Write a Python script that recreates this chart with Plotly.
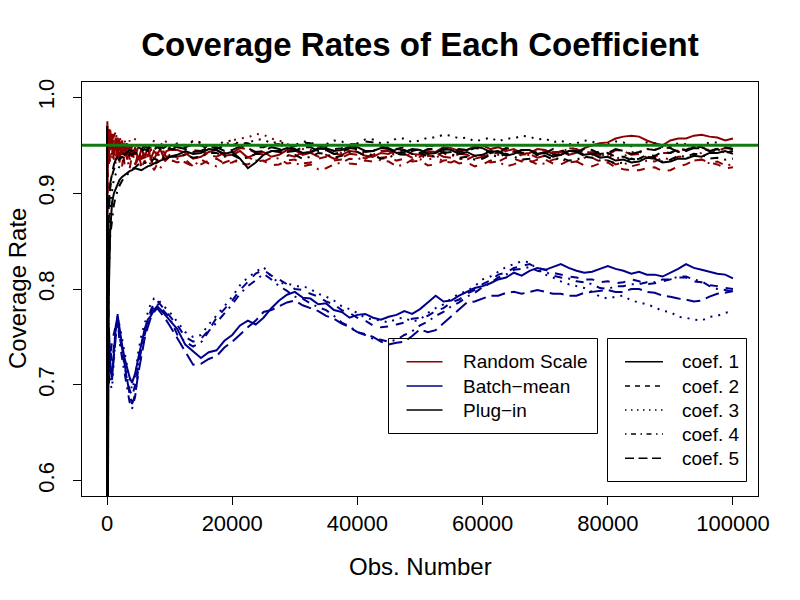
import plotly.graph_objects as go

# ---------------- data ----------------
obs_early = [1, 50, 150, 300, 500, 800, 1100, 1400, 1700, 2000, 2400, 2800, 3200, 3600, 4000,
             4500, 5000, 5500, 6000, 6500, 7000, 7500, 8000, 8500, 9000, 9500, 10000]
obs_late = [11250, 12500, 13750, 15000, 16250, 17500, 18750, 20000,
            21250, 22500, 23750, 25000, 26250, 27500, 28750, 30000,
            31250, 32500, 33750, 35000, 36250, 37500, 38750, 40000,
            41250, 42500, 43750, 45000, 46250, 47500, 48750, 50000,
            51250, 52500, 53750, 55000, 56250, 57500, 58750, 60000,
            61250, 62500, 63750, 65000, 66250, 67500, 68750, 70000,
            71250, 72500, 73750, 75000, 76250, 77500, 78750, 80000,
            81250, 82500, 83750, 85000, 86250, 87500, 88750, 90000,
            91250, 92500, 93750, 95000, 96250, 97500, 98750, 100000]
obs_n = obs_early + obs_late

# Random Scale (red)
rs_coef1 = [0.72, 0.97, 0.935, 0.965, 0.945, 0.962, 0.94, 0.958, 0.936, 0.955, 0.94, 0.952, 0.935, 0.95,
            0.938, 0.948, 0.935, 0.946, 0.938, 0.947, 0.936, 0.944, 0.94, 0.946, 0.938, 0.944, 0.945,
            0.945, 0.942, 0.936, 0.938, 0.943, 0.945, 0.939, 0.940,
            0.944, 0.937, 0.941, 0.943, 0.938, 0.940, 0.945, 0.945,
            0.940, 0.942, 0.946, 0.946, 0.941, 0.940, 0.944, 0.943,
            0.939, 0.938, 0.942, 0.941, 0.946, 0.945, 0.941, 0.940,
            0.944, 0.943, 0.948, 0.947, 0.944, 0.945, 0.949, 0.950,
            0.946, 0.948, 0.944, 0.946, 0.941, 0.942, 0.946, 0.945,
            0.941, 0.944, 0.940, 0.942, 0.947, 0.950, 0.952, 0.953,
            0.957, 0.959, 0.960, 0.959, 0.955, 0.952, 0.950, 0.955,
            0.957, 0.957, 0.960, 0.961, 0.959, 0.958, 0.955, 0.957]
rs_coef2 = [0.75, 0.955, 0.965, 0.93, 0.96, 0.94, 0.962, 0.945, 0.958, 0.938, 0.952, 0.93, 0.948, 0.935,
            0.945, 0.93, 0.942, 0.928, 0.94, 0.932, 0.936, 0.926, 0.935, 0.93, 0.938, 0.932, 0.935,
            0.932, 0.935, 0.928, 0.930, 0.934, 0.936, 0.931, 0.932,
            0.936, 0.938, 0.933, 0.934, 0.929, 0.930, 0.934, 0.935,
            0.931, 0.932, 0.936, 0.938, 0.934, 0.935, 0.931, 0.930,
            0.934, 0.933, 0.937, 0.938, 0.934, 0.936, 0.933, 0.934,
            0.929, 0.930, 0.934, 0.935, 0.931, 0.932, 0.928, 0.930,
            0.934, 0.933, 0.937, 0.936, 0.933, 0.932, 0.935, 0.935,
            0.931, 0.930, 0.934, 0.933, 0.929, 0.928, 0.931, 0.932,
            0.927, 0.925, 0.924, 0.924, 0.926, 0.927, 0.923, 0.924,
            0.928, 0.930, 0.934, 0.935, 0.932, 0.930, 0.926, 0.927]
rs_coef3 = [0.70, 0.962, 0.94, 0.97, 0.95, 0.935, 0.958, 0.965, 0.945, 0.96, 0.945, 0.956, 0.942, 0.955,
            0.948, 0.957, 0.946, 0.953, 0.945, 0.952, 0.947, 0.955, 0.948, 0.953, 0.949, 0.955, 0.95,
            0.950, 0.948, 0.955, 0.952, 0.947, 0.945, 0.950, 0.955,
            0.957, 0.958, 0.962, 0.961, 0.957, 0.955, 0.951, 0.950,
            0.946, 0.945, 0.949, 0.948, 0.944, 0.942, 0.946, 0.945,
            0.941, 0.940, 0.936, 0.938, 0.942, 0.942, 0.938, 0.940,
            0.935, 0.937, 0.941, 0.940, 0.936, 0.935, 0.939, 0.938,
            0.942, 0.940, 0.944, 0.943, 0.939, 0.940, 0.944, 0.945,
            0.941, 0.942, 0.947, 0.946, 0.942, 0.943, 0.939, 0.940,
            0.936, 0.938, 0.943, 0.942, 0.946, 0.945, 0.949, 0.948,
            0.944, 0.944, 0.940, 0.942, 0.946, 0.946, 0.942, 0.944]
rs_coef4 = [0.78, 0.94, 0.968, 0.945, 0.932, 0.958, 0.945, 0.93, 0.955, 0.942, 0.928, 0.948, 0.935, 0.925,
            0.94, 0.93, 0.936, 0.926, 0.934, 0.928, 0.932, 0.924, 0.93, 0.926, 0.932, 0.935, 0.938,
            0.936, 0.932, 0.928, 0.935, 0.931, 0.928, 0.932, 0.935,
            0.931, 0.930, 0.934, 0.933, 0.937, 0.936, 0.931, 0.932,
            0.928, 0.930, 0.925, 0.926, 0.930, 0.932, 0.936, 0.935,
            0.939, 0.938, 0.934, 0.933, 0.928, 0.930, 0.935, 0.935,
            0.939, 0.938, 0.933, 0.932, 0.936, 0.935, 0.939, 0.937,
            0.932, 0.933, 0.928, 0.930, 0.934, 0.934, 0.930, 0.931,
            0.935, 0.936, 0.932, 0.933, 0.937, 0.937, 0.933, 0.935,
            0.930, 0.932, 0.928, 0.930, 0.934, 0.933, 0.937, 0.935,
            0.938, 0.938, 0.934, 0.935, 0.931, 0.933, 0.929, 0.930]
rs_coef5 = [0.74, 0.975, 0.95, 0.94, 0.966, 0.95, 0.935, 0.958, 0.945, 0.932, 0.955, 0.94, 0.952, 0.938,
            0.95, 0.94, 0.948, 0.935, 0.945, 0.938, 0.946, 0.935, 0.942, 0.938, 0.944, 0.937, 0.94,
            0.938, 0.940, 0.945, 0.944, 0.940, 0.938, 0.942, 0.942,
            0.947, 0.946, 0.942, 0.940, 0.944, 0.944, 0.940, 0.938,
            0.943, 0.942, 0.938, 0.940, 0.936, 0.937, 0.941, 0.940,
            0.936, 0.940, 0.944, 0.944, 0.940, 0.941, 0.937, 0.938,
            0.942, 0.942, 0.938, 0.937, 0.941, 0.940, 0.936, 0.938,
            0.941, 0.942, 0.946, 0.944, 0.940, 0.941, 0.937, 0.939,
            0.943, 0.943, 0.947, 0.946, 0.942, 0.943, 0.939, 0.940,
            0.945, 0.944, 0.940, 0.941, 0.937, 0.938, 0.942, 0.942,
            0.946, 0.945, 0.948, 0.948, 0.944, 0.944, 0.947, 0.946]

# Batch-mean (blue)
bm_coef1 = [0.0, 0.82, 0.70, 0.76, 0.725, 0.705, 0.735, 0.762, 0.772, 0.758, 0.742, 0.728, 0.718, 0.708,
            0.702, 0.712, 0.728, 0.745, 0.758, 0.768, 0.772, 0.778, 0.782, 0.779, 0.775, 0.772, 0.768,
            0.758, 0.742, 0.735, 0.728, 0.734, 0.736, 0.746, 0.752,
            0.762, 0.767, 0.763, 0.770, 0.780, 0.788, 0.794, 0.797,
            0.791, 0.790, 0.784, 0.785, 0.778, 0.776, 0.770, 0.773,
            0.774, 0.770, 0.768, 0.771, 0.773, 0.777, 0.774, 0.779,
            0.786, 0.793, 0.787, 0.788, 0.793, 0.797, 0.801, 0.803,
            0.806, 0.810, 0.812, 0.817, 0.814, 0.819, 0.822, 0.820,
            0.823, 0.826, 0.822, 0.819, 0.817, 0.818, 0.821, 0.824,
            0.821, 0.819, 0.816, 0.818, 0.815, 0.815, 0.813, 0.817,
            0.821, 0.826, 0.822, 0.820, 0.818, 0.816, 0.815, 0.811]
bm_coef2 = [0.0, 0.80, 0.74, 0.70, 0.73, 0.745, 0.755, 0.762, 0.766, 0.75, 0.735, 0.72, 0.705, 0.695,
            0.688, 0.70, 0.722, 0.742, 0.755, 0.768, 0.778, 0.785, 0.788, 0.784, 0.780, 0.776, 0.772,
            0.762, 0.750, 0.745, 0.748, 0.757, 0.770, 0.779, 0.788,
            0.799, 0.807, 0.816, 0.820, 0.814, 0.810, 0.805, 0.800,
            0.799, 0.795, 0.792, 0.787, 0.784, 0.778, 0.775, 0.770,
            0.767, 0.762, 0.760, 0.761, 0.763, 0.765, 0.769, 0.770,
            0.772, 0.777, 0.780, 0.786, 0.789, 0.795, 0.799, 0.805,
            0.809, 0.815, 0.817, 0.822, 0.824, 0.826, 0.822, 0.820,
            0.817, 0.815, 0.813, 0.812, 0.810, 0.810, 0.807, 0.808,
            0.806, 0.807, 0.810, 0.808, 0.805, 0.806, 0.808, 0.810,
            0.812, 0.812, 0.808, 0.807, 0.804, 0.803, 0.801, 0.800]
bm_coef3 = [0.0, 0.78, 0.72, 0.74, 0.70, 0.696, 0.73, 0.755, 0.77, 0.762, 0.748, 0.732, 0.72, 0.705,
            0.695, 0.708, 0.735, 0.752, 0.765, 0.775, 0.785, 0.79, 0.79, 0.786, 0.782, 0.779, 0.776,
            0.765, 0.755, 0.750, 0.752, 0.763, 0.772, 0.782, 0.792,
            0.804, 0.812, 0.818, 0.823, 0.813, 0.806, 0.806, 0.803,
            0.803, 0.800, 0.795, 0.792, 0.788, 0.782, 0.779, 0.775,
            0.770, 0.768, 0.767, 0.765, 0.769, 0.770, 0.766, 0.768,
            0.775, 0.780, 0.784, 0.790, 0.795, 0.798, 0.803, 0.810,
            0.813, 0.818, 0.823, 0.826, 0.829, 0.828, 0.820, 0.815,
            0.812, 0.808, 0.805, 0.803, 0.801, 0.797, 0.792, 0.790,
            0.792, 0.793, 0.788, 0.786, 0.784, 0.781, 0.777, 0.776,
            0.771, 0.770, 0.768, 0.767, 0.771, 0.772, 0.775, 0.777]
bm_coef4 = [0.0, 0.81, 0.76, 0.72, 0.74, 0.722, 0.74, 0.758, 0.768, 0.745, 0.728, 0.712, 0.695, 0.682,
            0.675, 0.688, 0.718, 0.738, 0.752, 0.765, 0.775, 0.782, 0.785, 0.781, 0.778, 0.774, 0.77,
            0.752, 0.745, 0.740, 0.744, 0.756, 0.765, 0.774, 0.784,
            0.795, 0.803, 0.809, 0.816, 0.810, 0.803, 0.798, 0.792,
            0.790, 0.785, 0.781, 0.778, 0.772, 0.765, 0.761, 0.755,
            0.752, 0.748, 0.747, 0.745, 0.747, 0.752, 0.756, 0.762,
            0.766, 0.772, 0.776, 0.782, 0.786, 0.792, 0.796, 0.802,
            0.806, 0.812, 0.815, 0.820, 0.821, 0.823, 0.819, 0.818,
            0.814, 0.812, 0.811, 0.808, 0.807, 0.805, 0.801, 0.800,
            0.803, 0.803, 0.805, 0.805, 0.807, 0.807, 0.810, 0.810,
            0.813, 0.813, 0.810, 0.808, 0.803, 0.800, 0.799, 0.797]
bm_coef5 = [0.0, 0.79, 0.73, 0.75, 0.715, 0.71, 0.728, 0.75, 0.774, 0.752, 0.738, 0.722, 0.705, 0.69,
            0.68, 0.69, 0.712, 0.73, 0.748, 0.76, 0.77, 0.776, 0.78, 0.776, 0.772, 0.767, 0.762,
            0.748, 0.735, 0.721, 0.722, 0.727, 0.730, 0.739, 0.745,
            0.753, 0.760, 0.767, 0.776, 0.778, 0.782, 0.786, 0.788,
            0.783, 0.780, 0.777, 0.772, 0.769, 0.764, 0.760, 0.755,
            0.753, 0.750, 0.745, 0.742, 0.744, 0.745, 0.751, 0.758,
            0.755, 0.757, 0.764, 0.772, 0.779, 0.786, 0.787, 0.790,
            0.793, 0.793, 0.796, 0.797, 0.795, 0.797, 0.799, 0.797,
            0.795, 0.795, 0.793, 0.793, 0.796, 0.797, 0.798, 0.799,
            0.797, 0.797, 0.800, 0.800, 0.797, 0.796, 0.793, 0.792,
            0.790, 0.789, 0.787, 0.788, 0.792, 0.795, 0.796, 0.798]

# Plug-in (black)
pi_coef1 = [0.97, 0.0, 0.60, 0.80, 0.86, 0.89, 0.90, 0.905, 0.91, 0.914, 0.917, 0.919, 0.921, 0.923,
            0.924, 0.926, 0.925, 0.924, 0.926, 0.928, 0.929, 0.931, 0.932, 0.934, 0.935, 0.936, 0.938,
            0.940, 0.944, 0.941, 0.942, 0.946, 0.945, 0.941, 0.943,
            0.936, 0.926, 0.932, 0.940, 0.944, 0.944, 0.947, 0.946,
            0.942, 0.943, 0.947, 0.947, 0.944, 0.945, 0.949, 0.948,
            0.944, 0.944, 0.947, 0.946, 0.942, 0.943, 0.946, 0.945,
            0.941, 0.942, 0.946, 0.945, 0.941, 0.943, 0.939, 0.940,
            0.944, 0.943, 0.939, 0.941, 0.945, 0.945, 0.941, 0.942,
            0.938, 0.940, 0.944, 0.944, 0.940, 0.941, 0.937, 0.938,
            0.934, 0.935, 0.932, 0.933, 0.937, 0.936, 0.932, 0.933,
            0.936, 0.936, 0.939, 0.938, 0.942, 0.942, 0.944, 0.941]
pi_coef2 = [0.95, 0.30, 0.82, 0.88, 0.905, 0.918, 0.925, 0.93, 0.933, 0.936, 0.938, 0.936, 0.94, 0.942,
            0.94, 0.943, 0.945, 0.943, 0.946, 0.944, 0.947, 0.945, 0.948, 0.946, 0.949, 0.947, 0.946,
            0.946, 0.948, 0.951, 0.950, 0.946, 0.946, 0.950, 0.950,
            0.953, 0.952, 0.948, 0.948, 0.951, 0.951, 0.947, 0.949,
            0.953, 0.952, 0.948, 0.950, 0.946, 0.947, 0.951, 0.951,
            0.954, 0.953, 0.949, 0.950, 0.946, 0.948, 0.944, 0.946,
            0.950, 0.949, 0.945, 0.947, 0.943, 0.944, 0.947, 0.946,
            0.942, 0.943, 0.947, 0.946, 0.942, 0.944, 0.940, 0.942,
            0.946, 0.945, 0.941, 0.943, 0.939, 0.940, 0.944, 0.942,
            0.938, 0.938, 0.935, 0.936, 0.940, 0.939, 0.943, 0.942,
            0.946, 0.945, 0.949, 0.948, 0.944, 0.946, 0.942, 0.944]
pi_coef3 = [0.90, 0.20, 0.78, 0.86, 0.89, 0.905, 0.915, 0.92, 0.925, 0.928, 0.932, 0.935, 0.937, 0.94,
            0.942, 0.941, 0.944, 0.946, 0.944, 0.947, 0.946, 0.949, 0.948, 0.95, 0.948, 0.95, 0.948,
            0.952, 0.950, 0.954, 0.953, 0.949, 0.950, 0.954, 0.955,
            0.951, 0.952, 0.956, 0.956, 0.952, 0.954, 0.950, 0.950,
            0.954, 0.953, 0.949, 0.951, 0.955, 0.954, 0.950, 0.952,
            0.956, 0.956, 0.952, 0.953, 0.957, 0.957, 0.953, 0.955,
            0.958, 0.958, 0.961, 0.960, 0.957, 0.958, 0.954, 0.956,
            0.958, 0.954, 0.957, 0.957, 0.960, 0.959, 0.956, 0.957,
            0.953, 0.955, 0.951, 0.952, 0.955, 0.954, 0.950, 0.951,
            0.954, 0.953, 0.949, 0.950, 0.953, 0.952, 0.948, 0.949,
            0.952, 0.951, 0.948, 0.950, 0.953, 0.953, 0.949, 0.950]
pi_coef4 = [0.93, 0.10, 0.70, 0.82, 0.855, 0.875, 0.888, 0.897, 0.903, 0.908, 0.913, 0.916, 0.92, 0.922,
            0.925, 0.927, 0.93, 0.929, 0.932, 0.934, 0.933, 0.936, 0.935, 0.938, 0.937, 0.94, 0.938,
            0.938, 0.940, 0.937, 0.938, 0.942, 0.942, 0.938, 0.940,
            0.936, 0.937, 0.941, 0.941, 0.944, 0.943, 0.939, 0.940,
            0.936, 0.938, 0.942, 0.941, 0.937, 0.939, 0.943, 0.943,
            0.939, 0.940, 0.936, 0.937, 0.941, 0.940, 0.944, 0.942,
            0.938, 0.939, 0.943, 0.941, 0.937, 0.938, 0.935, 0.936,
            0.940, 0.938, 0.941, 0.938, 0.935, 0.936, 0.940, 0.939,
            0.935, 0.937, 0.934, 0.935, 0.938, 0.937, 0.934, 0.934,
            0.931, 0.932, 0.936, 0.934, 0.938, 0.937, 0.933, 0.935,
            0.939, 0.938, 0.941, 0.940, 0.936, 0.937, 0.935, 0.936]
pi_coef5 = [0.96, 0.40, 0.85, 0.89, 0.91, 0.922, 0.93, 0.935, 0.937, 0.94, 0.942, 0.94, 0.943, 0.945,
            0.944, 0.946, 0.948, 0.946, 0.949, 0.947, 0.95, 0.948, 0.95, 0.948, 0.947, 0.949, 0.949,
            0.948, 0.946, 0.943, 0.944, 0.948, 0.948, 0.944, 0.945,
            0.949, 0.947, 0.943, 0.944, 0.948, 0.946, 0.943, 0.944,
            0.948, 0.948, 0.944, 0.945, 0.941, 0.943, 0.947, 0.946,
            0.943, 0.944, 0.948, 0.947, 0.943, 0.945, 0.941, 0.942,
            0.946, 0.946, 0.942, 0.943, 0.946, 0.945, 0.948, 0.947,
            0.943, 0.944, 0.940, 0.942, 0.945, 0.945, 0.941, 0.943,
            0.940, 0.940, 0.944, 0.943, 0.946, 0.945, 0.941, 0.942,
            0.946, 0.944, 0.941, 0.943, 0.946, 0.945, 0.948, 0.947,
            0.943, 0.944, 0.947, 0.947, 0.944, 0.946, 0.948, 0.946]

target_rate = 0.95
x_ticks = [0, 20000, 40000, 60000, 80000, 100000]
y_ticks = [0.6, 0.7, 0.8, 0.9, 1.0]
y_tick_text = ["0.6", "0.7", "0.8", "0.9", "1.0"]
method_names = ["Random Scale", "Batch\u2212mean", "Plug\u2212in"]
coef_names = ["coef. 1", "coef. 2", "coef. 3", "coef. 4", "coef. 5"]

# ---------------- styling ----------------
FONT = "Liberation Sans, Arial, Helvetica, sans-serif"
RED, BLUE, BLACK, GREEN = "#8B0000", "#00008B", "#000000", "#127a12"
DASHES = ["solid", "8px,8px", "2px,6px", "2px,6px,8px,6px", "14px,6px"]
LEG_DASHES = ["solid", "5px,5px", "1.5px,4.5px", "1.5px,4.5px,5px,4.5px", "9px,4.5px"]

fig = go.Figure()
groups = [
    (BLUE, [bm_coef1, bm_coef2, bm_coef3, bm_coef4, bm_coef5]),
    (RED, [rs_coef1, rs_coef2, rs_coef3, rs_coef4, rs_coef5]),
    (BLACK, [pi_coef1, pi_coef2, pi_coef3, pi_coef4, pi_coef5]),
]
for color, series in groups:
    for i, ys in enumerate(series):
        fig.add_trace(go.Scatter(x=obs_n, y=ys, mode="lines", showlegend=False,
                                 line=dict(color=color, width=2, dash=DASHES[i]),
                                 hoverinfo="skip"))

# plot area in pixels
L, R, T, B = 82, 758, 82, 496
W, H = 800, 600


def px(x):
    return (x - L) / (R - L)


def py(y):
    return 1 - (y - T) / (B - T)


shapes = [dict(type="line", xref="paper", yref="y", x0=0, x1=1, y0=target_rate, y1=target_rate,
               line=dict(color=GREEN, width=3), layer="above")]
annotations = []

# legend 1: methods
shapes.append(dict(type="rect", xref="paper", yref="paper", x0=px(388.5), x1=px(597.5),
                   y0=py(338.5), y1=py(433.5), line=dict(color="black", width=1)))
leg1_rows = [361.7, 386, 410]
for name, color, yy in zip(method_names, [RED, BLUE, BLACK], leg1_rows):
    shapes.append(dict(type="line", xref="paper", yref="paper", x0=px(406.5), x1=px(442.5),
                       y0=py(yy), y1=py(yy), line=dict(color=color, width=1.5)))
    annotations.append(dict(text=name, xref="paper", yref="paper", x=px(461), y=py(yy),
                            xanchor="left", yanchor="middle", showarrow=False,
                            font=dict(family=FONT, size=19, color="black")))

# legend 2: coefficients
shapes.append(dict(type="rect", xref="paper", yref="paper", x0=px(607.5), x1=px(746.5),
                   y0=py(338.5), y1=py(481.5), line=dict(color="black", width=1)))
leg2_rows = [361.7, 386, 410, 434, 458.3]
for name, dash, yy in zip(coef_names, LEG_DASHES, leg2_rows):
    shapes.append(dict(type="line", xref="paper", yref="paper", x0=px(625), x1=px(663),
                       y0=py(yy), y1=py(yy), line=dict(color="black", width=1.5, dash=dash)))
    annotations.append(dict(text=name, xref="paper", yref="paper", x=px(680), y=py(yy),
                            xanchor="left", yanchor="middle", showarrow=False,
                            font=dict(family=FONT, size=19, color="black")))

# axis titles
annotations.append(dict(text="Obs. Number", xref="paper", yref="paper", x=0.5, y=py(566),
                        xanchor="center", yanchor="middle", showarrow=False,
                        font=dict(family=FONT, size=24, color="black")))
annotations.append(dict(text="Coverage Rate", xref="paper", yref="paper", x=px(17), y=0.5,
                        xanchor="center", yanchor="middle", showarrow=False, textangle=-90,
                        font=dict(family=FONT, size=24, color="black")))

fig.update_layout(
    width=W, height=H,
    margin=dict(l=L, r=W - R, t=T, b=H - B, pad=0, autoexpand=False),
    paper_bgcolor="white", plot_bgcolor="white",
    font=dict(family=FONT, size=22, color="black"),
    title=dict(text="<b>Coverage Rates of Each Coefficient</b>", x=420 / W, xref="container",
               xanchor="center", y=1 - 44 / H, yref="container", yanchor="middle",
               automargin=False,
               font=dict(family=FONT, size=33, color="black")),
    xaxis=dict(range=[-4000, 104000], tickvals=x_ticks, ticktext=[str(v) for v in x_ticks],
               ticks="outside", ticklen=8, tickwidth=1, tickcolor="black",
               showline=True, linecolor="black", linewidth=1, mirror=True,
               showgrid=False, zeroline=False, ticklabelstandoff=0, automargin=False,
               tickfont=dict(family=FONT, size=22, color="black")),
    yaxis=dict(range=[0.584, 1.016], tickvals=y_ticks, ticktext=y_tick_text,
               ticks="outside", ticklen=8, tickwidth=1, tickcolor="black",
               showline=True, linecolor="black", linewidth=1, mirror=True,
               showgrid=False, zeroline=False, tickangle=-90, ticklabelstandoff=10,
               automargin=False,
               tickfont=dict(family=FONT, size=22, color="black")),
    shapes=shapes, annotations=annotations,
    showlegend=False,
)

fig.write_html("out.html",
               config={"displayModeBar": False},
               post_script="document.body.style.margin='0';document.body.style.overflow='hidden';")
